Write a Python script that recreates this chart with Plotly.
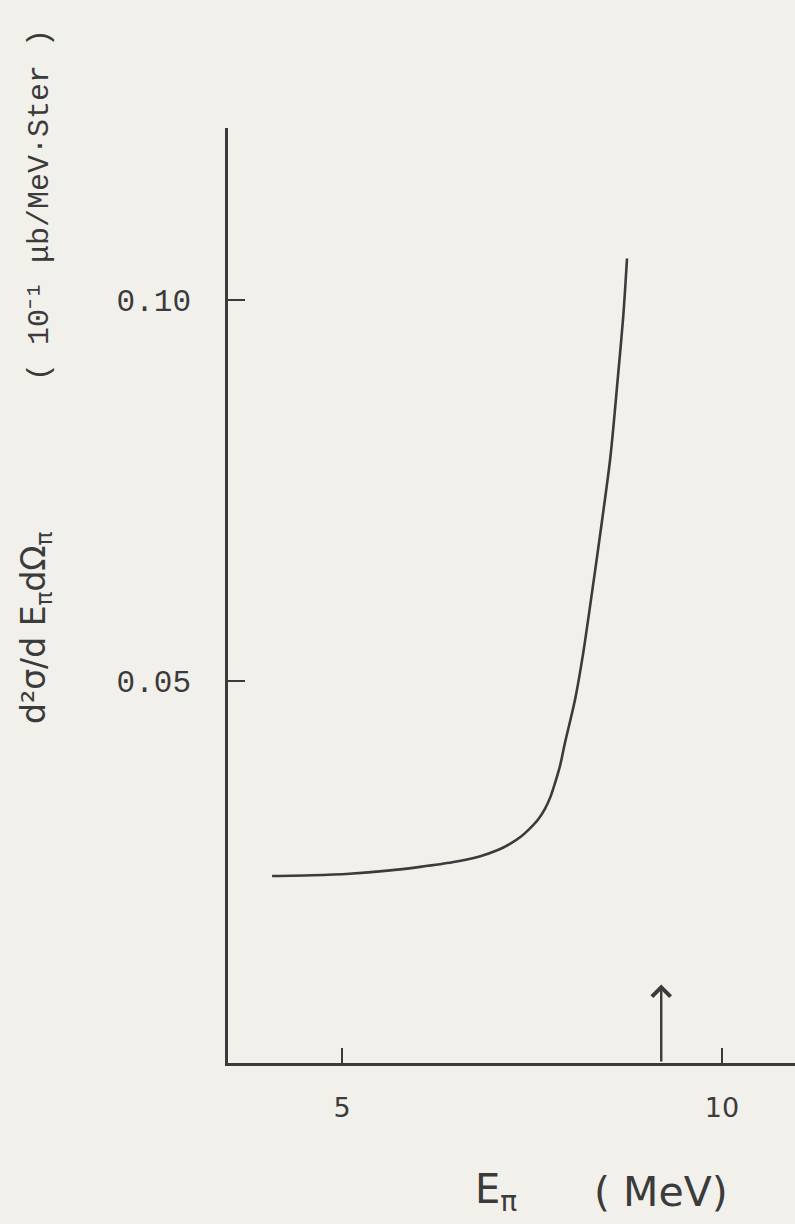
import plotly.graph_objects as go

# ---- data ----
energy_mev = [4.08, 4.6, 5.1, 5.6, 6.03, 6.45, 6.82, 7.05, 7.21, 7.36, 7.47, 7.58, 7.67, 7.74, 7.80,
              7.87, 7.93, 8.07, 8.17, 8.26, 8.39, 8.53, 8.63, 8.70, 8.75]
cross_section = [0.0245, 0.0246, 0.0248, 0.0252, 0.0257, 0.0263, 0.0271, 0.0279, 0.0287, 0.0297,
                 0.0307, 0.0319, 0.0333, 0.0348, 0.0366, 0.0390, 0.0418, 0.0478, 0.0535,
                 0.0596, 0.0688, 0.0793, 0.0899, 0.0978, 0.1054]
x_tick_vals = [5, 10]
x_tick_text = ["5", "10"]
y_tick_vals = [0.05, 0.10]
y_tick_text = ["0.05", "0.10"]
threshold_energy = 9.2
threshold_arrow_height = 0.0103
x_range = [3.5, 10.96]
y_range = [0, 0.1225]

W, H = 795, 1224
L, R, T, B = 228, 0, 128, 161
ink = "#3b3b3b"
paper = "#f2f0eb"

fig = go.Figure()
fig.add_trace(go.Scatter(x=energy_mev, y=cross_section, mode="lines",
                         line=dict(color=ink, width=2.6, shape="spline", smoothing=0.8),
                         hoverinfo="skip", showlegend=False))

fig.add_annotation(x=threshold_energy, y=threshold_arrow_height, ax=threshold_energy, ay=0,
                   xref="x", yref="y", axref="x", ayref="y", text="", showarrow=True,
                   arrowhead=4, arrowsize=1.5, arrowwidth=2.4, arrowcolor=ink)

pw = W - L - R
ph = H - T - B
def px(xp):
    return (xp - L) / pw
def py(yp):
    return (H - B - yp) / ph

fig.add_annotation(x=px(35), y=py(628), xref="paper", yref="paper",
                   text="d²σ/d E<sub>π</sub>dΩ<sub>π</sub>", textangle=-90, showarrow=False,
                   font=dict(family="DejaVu Sans", size=33, color=ink), xanchor="center", yanchor="middle")
fig.add_annotation(x=px(40), y=py(205), xref="paper", yref="paper",
                   text="( 10⁻¹ μb/MeV·Ster )", textangle=-90, showarrow=False,
                   font=dict(family="Liberation Mono", size=30, color=ink), xanchor="center", yanchor="middle")
fig.add_annotation(x=px(496), y=py(1192), xref="paper", yref="paper",
                   text="E<sub>π</sub>", showarrow=False,
                   font=dict(family="DejaVu Sans", size=40, color=ink), xanchor="center", yanchor="middle")
fig.add_annotation(x=px(661), y=py(1192), xref="paper", yref="paper",
                   text="( MeV)", showarrow=False,
                   font=dict(family="DejaVu Sans", size=41, color=ink), xanchor="center", yanchor="middle")

fig.update_layout(
    width=W, height=H, margin=dict(l=L, r=R, t=T, b=B),
    paper_bgcolor=paper, plot_bgcolor=paper, showlegend=False,
    xaxis=dict(range=x_range, showgrid=False, zeroline=False, showline=True, linecolor=ink, linewidth=2.6,
               ticks="inside", ticklen=15, tickwidth=2.4, tickcolor=ink,
               tickvals=x_tick_vals, ticktext=x_tick_text, ticklabelstandoff=19,
               tickfont=dict(family="DejaVu Sans", size=27, color=ink)),
    yaxis=dict(range=y_range, showgrid=False, zeroline=False, showline=True, linecolor=ink, linewidth=2.6,
               ticks="inside", ticklen=17, tickwidth=2.4, tickcolor=ink,
               tickvals=y_tick_vals, ticktext=y_tick_text, ticklabelstandoff=28,
               tickfont=dict(family="Liberation Mono", size=31, color=ink)),
)

fig.write_html("out.html")
